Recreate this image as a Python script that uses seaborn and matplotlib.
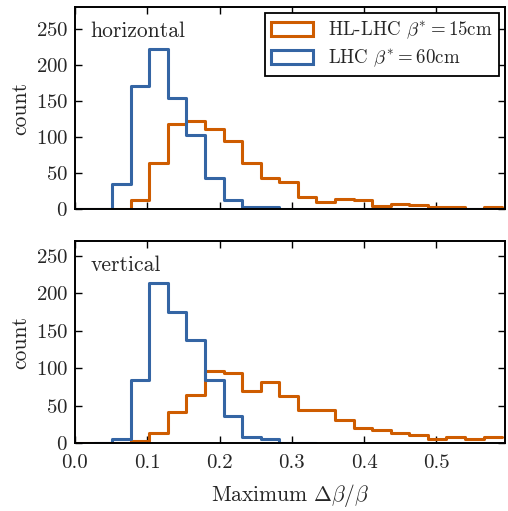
import numpy as np
import pandas as pd
import seaborn as sns
import matplotlib.pyplot as plt
from matplotlib.patches import Patch

# ---------------------------------------------------------
# data: counts per bin (bin width ~0.0257)
# ---------------------------------------------------------
bin_width = 0.0257
n_bins = 23
edges = np.arange(n_bins + 1) * bin_width

# horizontal plane (bins 0..22)
hl_horizontal = [0, 0, 0, 13, 64, 119, 122, 112, 95, 65, 43, 38,
                 17, 11, 15, 13, 5, 8, 6, 3, 3, 0, 3]
lhc_horizontal = [0, 0, 36, 171, 222, 155, 103, 43, 13, 4, 3, 0,
                  0, 0, 0, 0, 0, 0, 0, 0, 0, 0, 0]

# vertical plane
hl_vertical = [0, 0, 0, 3, 14, 42, 64, 96, 93, 69, 81, 63,
               44, 44, 31, 20, 17, 14, 11, 5, 8, 5, 8]
lhc_vertical = [0, 6, 84, 214, 175, 138, 84, 36, 8, 6, 0, 0]  # bins 1..12

orange = '#CE5C00'
blue = '#3465A4'
hl_label = r'HL-LHC $\beta^{*}=15$cm'
lhc_label = r'LHC $\beta^{*}=60$cm'

# ---------------------------------------------------------
# style
# ---------------------------------------------------------
sns.set_style('ticks')
plt.rcParams['font.family'] = ['cmr10', 'DejaVu Serif']
plt.rcParams['mathtext.fontset'] = 'cm'
plt.rcParams['axes.formatter.use_mathtext'] = True
plt.rcParams['axes.linewidth'] = 1.4
plt.rcParams['axes.edgecolor'] = 'black'


def draw_hist(ax, counts, color, start=0):
    counts = np.asarray(counts, dtype=float)
    bins = edges[start:start + len(counts) + 1]
    df = pd.DataFrame({'x': bins[:-1] + bin_width / 2, 'w': counts})
    # bins as a plain list (seaborn compares bins == "auto")
    sns.histplot(data=df, x='x', weights='w', bins=bins.tolist(), element='step',
                 fill=False, color=color, linewidth=2.2, ax=ax)


fig = plt.figure(figsize=(5.08, 5.11), dpi=100)
ax_top = fig.add_axes([75 / 508, 1 - 209.5 / 511, 430 / 508, 202 / 511])
ax_bot = fig.add_axes([75 / 508, 1 - 443 / 511, 430 / 508, 201.5 / 511])

draw_hist(ax_top, hl_horizontal, orange)
draw_hist(ax_top, lhc_horizontal, blue)
draw_hist(ax_bot, hl_vertical, orange)
draw_hist(ax_bot, lhc_vertical, blue, start=1)

for ax, ymax, name in [(ax_top, 280, 'horizontal'), (ax_bot, 269, 'vertical')]:
    ax.set_xlim(0, 0.595)
    ax.set_ylim(0, ymax)
    ax.set_xticks(np.arange(0, 0.55, 0.1))
    ax.set_yticks(range(0, 251, 50))
    ax.set_ylabel('count', fontsize=15.5)
    ax.set_xlabel('')
    ax.tick_params(direction='in', top=True, right=True, length=5,
                   width=1, labelsize=15, color='black')
    ax.tick_params(axis='x', pad=8)
    ax.tick_params(axis='y', pad=5)
    for s in ax.spines.values():
        s.set_visible(True)
        s.set_color('black')
    ax.text(0.036, 0.854, name, transform=ax.transAxes, fontsize=15.5,
            va='baseline', ha='left')

ax_top.tick_params(labelbottom=False)
ax_bot.xaxis.set_major_formatter(plt.FormatStrFormatter('%.1f'))
ax_bot.set_xlabel(r'Maximum $\Delta\beta/\beta$', fontsize=15.5, labelpad=7)

handles = [Patch(facecolor='white', edgecolor=orange, linewidth=2.2, label=hl_label),
           Patch(facecolor='white', edgecolor=blue, linewidth=2.2, label=lhc_label)]
leg = ax_top.legend(handles=handles, loc='upper right', fontsize=13.6,
                    frameon=True, fancybox=False, framealpha=1,
                    edgecolor='black', borderaxespad=0.3,
                    handlelength=2.2, handleheight=0.7, handletextpad=0.8,
                    borderpad=0.35, labelspacing=0.35)
leg.get_frame().set_linewidth(1.3)

fig.savefig('out.png', dpi=100)
